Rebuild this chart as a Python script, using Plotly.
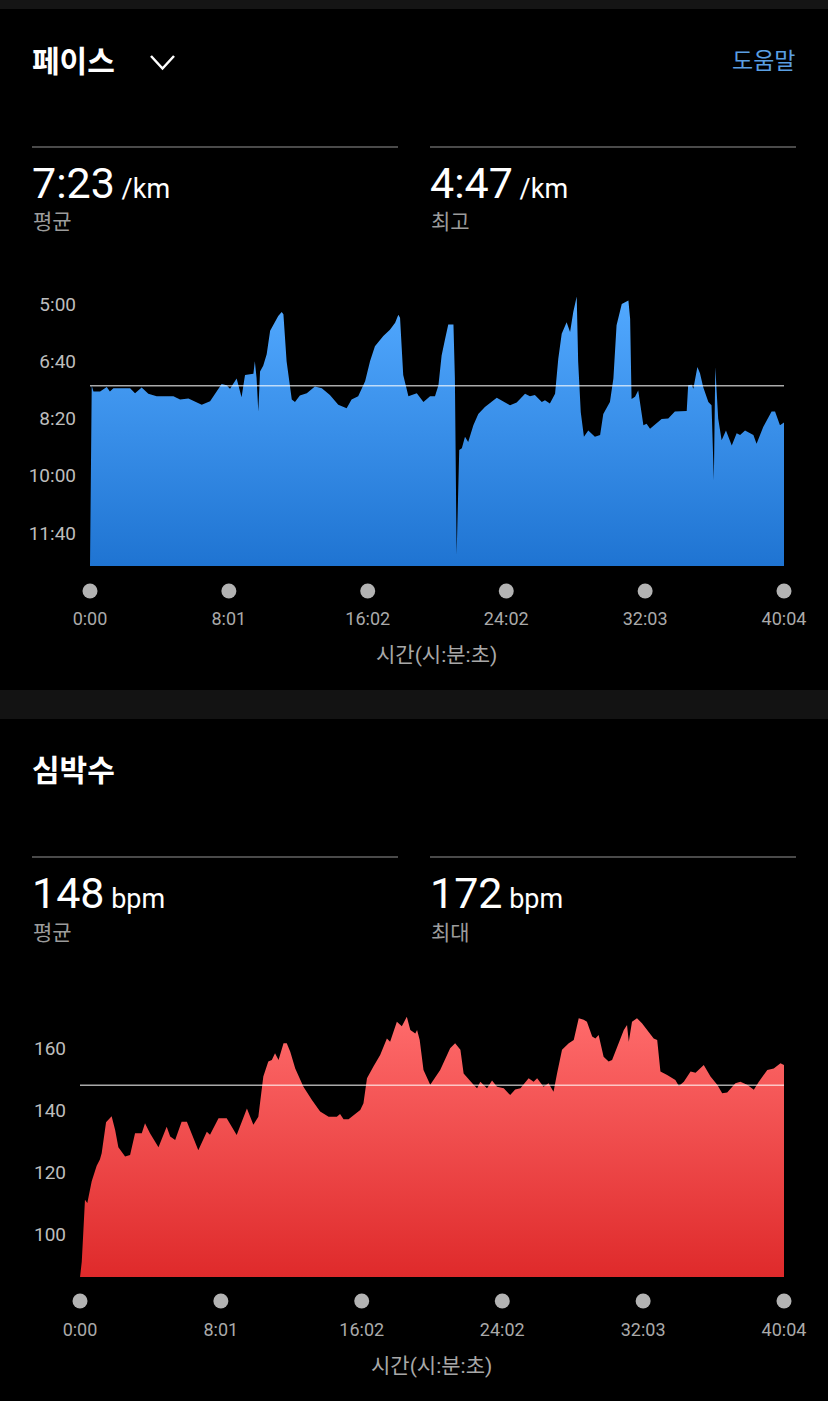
import plotly.graph_objects as go

W, H = 828, 1401

# ---------------- data ----------------
TIME_TICKS = [0, 481, 962, 1442, 1923, 2404]
TIME_LABELS = ["0:00", "8:01", "16:02", "24:02", "32:03", "40:04"]

PACE_TICKS = [300, 400, 500, 600, 700]
PACE_LABELS = ["5:00", "6:40", "8:20", "10:00", "11:40"]

HR_TICKS = [100, 120, 140, 160]

PACE_AVG = 443   # 7:23 /km
PACE_BEST = 287  # 4:47 /km
HR_AVG = 148
HR_MAX = 172

# elapsed time (s) and pace (s/km)
PACE_T = [0, 6, 12, 35, 58, 69, 81, 139, 156, 179, 202, 231, 289, 312, 341, 387, 416,
          456, 473, 485, 508, 517, 525, 537, 566, 571, 577, 583, 589, 600, 612, 624, 635,
          652, 664, 670, 681, 699, 710, 727, 751, 779, 803, 831, 860, 889, 906, 929, 953,
          970, 987, 1016, 1039, 1057, 1068, 1074, 1085, 1103, 1132, 1155, 1178, 1195, 1207,
          1218, 1230, 1241, 1259, 1264, 1270, 1279, 1288, 1299, 1310, 1328, 1345, 1368,
          1409, 1432, 1455, 1478, 1507, 1524, 1541, 1565, 1576, 1593, 1611, 1622, 1634,
          1651, 1663, 1674, 1686, 1691, 1700, 1711, 1726, 1749, 1767, 1778, 1801, 1813,
          1824, 1842, 1865, 1871, 1876, 1888, 1899, 1917, 1928, 1940, 1963, 1980, 2003,
          2026, 2067, 2072, 2084, 2090, 2104, 2113, 2124, 2142, 2153, 2161, 2166, 2176,
          2188, 2203, 2223, 2240, 2252, 2269, 2298, 2309, 2332, 2361, 2373, 2390, 2404]
PACE_S = [760, 443, 453, 453, 445, 453, 447, 447, 456, 446, 457, 461, 461, 467, 465, 476, 470,
          440, 442, 448, 430, 449, 463, 424, 422, 400, 429, 488, 418, 408, 388, 347, 336,
          321, 314, 318, 400, 467, 471, 460, 456, 444, 447, 459, 476, 482, 467, 461, 435,
          400, 374, 356, 345, 333, 319, 324, 424, 461, 456, 471, 461, 461, 442,
          390, 361, 336, 336, 430, 738, 555, 552, 532, 541, 512, 492, 480,
          464, 471, 477, 472, 457, 461, 459, 471, 468, 474, 457, 396, 352,
          332, 349, 314, 287, 401, 489, 532, 521, 532, 529, 492, 471, 430,
          337, 300, 294, 326, 466, 462, 451, 512, 509, 518, 509, 501, 500,
          488, 487, 442, 441, 448, 410, 421, 445, 471, 477, 608, 410, 500,
          538, 521, 547, 526, 529, 521, 529, 544, 515, 488, 488, 512, 507]

# elapsed time (s) and heart rate (bpm)
HR_T = [0, 6, 11, 17, 25, 40, 57, 68, 74, 89, 108, 120, 131, 154, 171, 188, 211, 222, 239,
        268, 296, 308, 325, 347, 365, 404, 433, 444, 473, 501, 535, 570, 592, 609, 626,
        643, 655, 666, 678, 695, 706, 718, 735, 763, 792, 820, 849, 877, 888, 900, 917,
        934, 957, 968, 980, 1002, 1025, 1048, 1059, 1082, 1099, 1116, 1128, 1145, 1151,
        1160, 1173, 1196, 1230, 1264, 1281, 1299, 1310, 1344, 1356, 1367, 1390, 1407,
        1424, 1447, 1469, 1486, 1504, 1532, 1549, 1561, 1583, 1600, 1617, 1629, 1646,
        1669, 1686, 1703, 1720, 1731, 1749, 1760, 1771, 1788, 1805, 1817, 1834, 1857,
        1868, 1874, 1885, 1902, 1919, 1942, 1959, 1971, 1982, 2005, 2033, 2045, 2062,
        2085, 2102, 2130, 2153, 2176, 2193, 2210, 2238, 2255, 2278, 2301, 2318, 2347,
        2369, 2392, 2404]
HR_BPM = [86, 91, 100, 111, 110, 117, 122, 124, 126, 136, 138, 133.5, 128, 125, 125.5,
          132.5, 132.5, 135.7, 132.5, 128, 134.6, 131.4, 130.3, 136.2, 136.2, 127, 133,
          132, 137.3, 137.3, 131.9, 140.5, 135.2, 137.8, 150.8, 155.6, 156.1, 158.3, 156.1,
          161.5, 161.5, 158.8, 153.4, 147.5, 143.2, 139.5, 137.8, 137.8, 138.7, 137, 137,
          138.4, 140, 142.2, 150.2, 154, 157.7, 163.1, 162, 168.5, 167, 170.1, 165.8, 164.7,
          165.8, 162.6, 152.9, 148.1, 152.9, 159.9, 161.5, 159.4, 151.8, 148.1, 147, 149.1,
          147, 149.5, 147.5, 147, 144.8, 146.6, 147, 150.2, 149.1, 150.2, 147.5, 148.6,
          145.9, 151.8, 159.4, 161.5, 162.6, 169.6, 169.1, 168.5, 163.7, 163.1, 164.2,
          157.2, 155.6, 156.1, 160.4, 165.8, 167.4, 162, 168.5, 169.6, 168, 165.3, 163.1,
          162.6, 152.4, 151.3, 149.7, 147.7, 149.1, 152.4, 152, 154.5, 150.8, 148.1, 145.4,
          145.6, 148.6, 149.1, 148.1, 146.5, 149.1, 152.9, 153.4, 155.1, 154.5]

# ---------------- layout helpers ----------------
FONT = "Roboto, Noto Sans CJK KR, sans-serif"


def px(x):
    return x / W


def py(y):
    return 1 - y / H


def mmss(s):
    return f"{s // 60}:{s % 60:02d}"


# plot-area pixel boxes
PACE_BOX = dict(left=90, right=784, top=292.5, bottom=566)
HR_BOX = dict(left=80, right=784, top=1001.5, bottom=1277)
PACE_RANGE = [757.6, 280]   # reversed (slow at bottom)
HR_RANGE = [86.1, 175]
PACE_DOT_ROW = 591
HR_DOT_ROW = 1301

fig = go.Figure()

# ---- pace area ----
fig.add_trace(go.Scatter(x=[0, TIME_TICKS[-1]], y=[PACE_RANGE[0]] * 2, mode="lines",
                         line=dict(width=0), hoverinfo="skip", showlegend=False,
                         xaxis="x", yaxis="y"))
fig.add_trace(go.Scatter(
    x=PACE_T, y=PACE_S, mode="lines", fill="tonexty",
    line=dict(width=0, color="#4fa6fc"),
    fillgradient=dict(type="vertical", start=PACE_RANGE[0], stop=PACE_BEST,
                      colorscale=[[0, "#1f74d2"], [1, "#52a9ff"]]),
    showlegend=False, xaxis="x", yaxis="y"))
fig.add_trace(go.Scatter(
    x=TIME_TICKS, y=[0] * len(TIME_TICKS),
    mode="markers", marker=dict(size=15, color="#b3b3b3"), cliponaxis=False,
    showlegend=False, xaxis="x3", yaxis="y3"))

# ---- heart-rate area ----
fig.add_trace(go.Scatter(
    x=HR_T, y=HR_BPM, mode="lines", fill="tozeroy",
    line=dict(width=0, color="#ff6b6b"),
    fillgradient=dict(type="vertical", start=HR_RANGE[0], stop=HR_MAX,
                      colorscale=[[0, "#df2a2b"], [1, "#ff6c6c"]]),
    showlegend=False, xaxis="x2", yaxis="y2"))
fig.add_trace(go.Scatter(
    x=TIME_TICKS, y=[0] * len(TIME_TICKS),
    mode="markers", marker=dict(size=15, color="#b3b3b3"), cliponaxis=False,
    showlegend=False, xaxis="x4", yaxis="y4"))

xcommon = dict(range=[0, TIME_TICKS[-1]], tickvals=TIME_TICKS, ticktext=TIME_LABELS,
               showgrid=False, zeroline=False, showline=False, ticks="", automargin=False,
               tickfont=dict(family=FONT, size=18, color="#aaaaaa"),
               ticklabelstandoff=40, fixedrange=True)
ycommon = dict(showgrid=False, zeroline=False, showline=False, ticks="", automargin=False,
               tickfont=dict(family=FONT, size=19, color="#bdbdbd"),
               ticklabelstandoff=13, fixedrange=True)
hidden = dict(visible=False, showgrid=False, zeroline=False, automargin=False, fixedrange=True)

fig.update_layout(
    template="none",
    width=W, height=H, margin=dict(l=0, r=0, t=0, b=0, autoexpand=False),
    paper_bgcolor="#000000", plot_bgcolor="rgba(0,0,0,0)",
    xaxis=dict(domain=[px(PACE_BOX["left"]), px(PACE_BOX["right"])], anchor="y", **xcommon),
    yaxis=dict(domain=[py(PACE_BOX["bottom"]), py(PACE_BOX["top"])], anchor="x",
               range=PACE_RANGE, tickvals=PACE_TICKS, ticktext=PACE_LABELS, **ycommon),
    xaxis2=dict(domain=[px(HR_BOX["left"]), px(HR_BOX["right"])], anchor="y2", **xcommon),
    yaxis2=dict(domain=[py(HR_BOX["bottom"]), py(HR_BOX["top"])], anchor="x2",
                range=HR_RANGE, tickvals=HR_TICKS, **ycommon),
    xaxis3=dict(domain=[px(PACE_BOX["left"]), px(PACE_BOX["right"])], anchor="y3",
                range=[0, TIME_TICKS[-1]], **hidden),
    yaxis3=dict(domain=[py(PACE_DOT_ROW + 6), py(PACE_DOT_ROW - 6)], anchor="x3",
                range=[-1, 1], **hidden),
    xaxis4=dict(domain=[px(HR_BOX["left"]), px(HR_BOX["right"])], anchor="y4",
                range=[0, TIME_TICKS[-1]], **hidden),
    yaxis4=dict(domain=[py(HR_DOT_ROW + 6), py(HR_DOT_ROW - 6)], anchor="x4",
                range=[-1, 1], **hidden),
)

shapes = [
    # top strip and section separator
    dict(type="rect", xref="paper", yref="paper", x0=0, x1=1, y0=py(9), y1=1,
         fillcolor="#151515", line=dict(width=0), layer="below"),
    dict(type="rect", xref="paper", yref="paper", x0=0, x1=1, y0=py(719), y1=py(690),
         fillcolor="#131313", line=dict(width=0), layer="below"),
    # stat divider lines
    dict(type="line", xref="paper", yref="paper", x0=px(32), x1=px(398), y0=py(147), y1=py(147),
         line=dict(color="#4a4a4a", width=2)),
    dict(type="line", xref="paper", yref="paper", x0=px(430), x1=px(796), y0=py(147), y1=py(147),
         line=dict(color="#4a4a4a", width=2)),
    dict(type="line", xref="paper", yref="paper", x0=px(32), x1=px(398), y0=py(857), y1=py(857),
         line=dict(color="#4a4a4a", width=2)),
    dict(type="line", xref="paper", yref="paper", x0=px(430), x1=px(796), y0=py(857), y1=py(857),
         line=dict(color="#4a4a4a", width=2)),
    # chevron next to the title
    dict(type="path", xref="paper", yref="paper",
         path=f"M {px(151)},{py(56)} L {px(162.5)},{py(68.5)} L {px(174)},{py(56)}",
         line=dict(color="#ffffff", width=2.5)),
    # average lines
    dict(type="line", xref="x", yref="y", x0=0, x1=TIME_TICKS[-1], y0=PACE_AVG, y1=PACE_AVG,
         line=dict(color="#ffffff", width=1)),
    dict(type="line", xref="x2", yref="y2", x0=0, x1=TIME_TICKS[-1], y0=HR_AVG, y1=HR_AVG,
         line=dict(color="#ffffff", width=1)),
]
fig.update_layout(shapes=shapes)


def ann(text, x, y, size, color, xanchor="left", weight="normal"):
    return dict(text=text, x=px(x), y=py(y), xref="paper", yref="paper",
                xanchor=xanchor, yanchor="middle", showarrow=False,
                font=dict(family=FONT, size=size, color=color, weight=weight))


def big(value, unit):
    return f"{value}<span style='font-size:27px'> {unit}</span>"


annotations = [
    ann("페이스", 30, 62, 30, "#ffffff", weight="bold"),
    ann("도움말", 797, 62, 23, "#5a9fe2", xanchor="right"),
    ann(big(mmss(PACE_AVG), "/km"), 30, 183, 43, "#ffffff"),
    ann("평균", 31, 222, 21, "#9c9c9c"),
    ann(big(mmss(PACE_BEST), "/km"), 428, 183, 43, "#ffffff"),
    ann("최고", 429, 222, 21, "#9c9c9c"),
    ann("시간(시:분:초)", 436, 655, 21, "#a8a8a8", xanchor="center"),
    ann("심박수", 30, 770, 30, "#ffffff", weight="bold"),
    ann(big(HR_AVG, "bpm"), 30, 893, 43, "#ffffff"),
    ann("평균", 31, 933, 21, "#9c9c9c"),
    ann(big(HR_MAX, "bpm"), 428, 893, 43, "#ffffff"),
    ann("최대", 429, 933, 21, "#9c9c9c"),
    ann("시간(시:분:초)", 431, 1366, 21, "#a8a8a8", xanchor="center"),
]
fig.update_layout(annotations=annotations)

fig.write_html("out.html")
